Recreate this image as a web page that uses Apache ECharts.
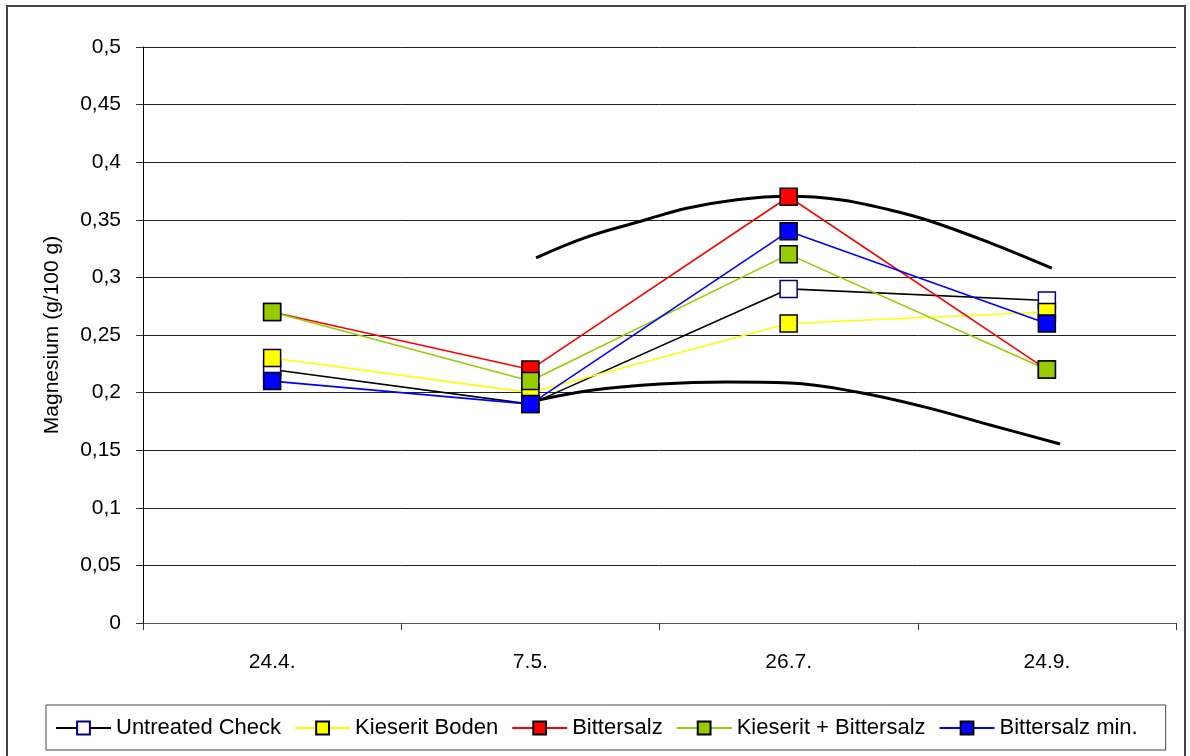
<!DOCTYPE html>
<html>
<head>
<meta charset="utf-8">
<script src="https://cdn.jsdelivr.net/npm/echarts@6/dist/echarts.min.js"></script>
<style>
  html, body { margin: 0; padding: 0; background: #fff; }
  #chart { width: 1190px; height: 756px; }
</style>
</head>
<body>
<div id="chart"></div>
<script>
// Sampling dates
const dates = ['24.4.', '7.5.', '26.7.', '24.9.'];

// Magnesium content (g/100 g) per treatment
const untreatedCheck = [0.22, 0.19, 0.29, 0.28];
const kieseritBoden = [0.23, 0.20, 0.26, 0.27];
const bittersalz = [0.27, 0.22, 0.37, 0.22];
const kieseritBittersalz = [0.27, 0.21, 0.32, 0.22];
const bittersalzMin = [0.21, 0.19, 0.34, 0.26];

// Hand-drawn envelope curves, [position along date axis (0..4), value]
const upperEnvelope = [
  [1.522, 0.317], [1.718, 0.335], [1.931, 0.349], [2.105, 0.360],
  [2.299, 0.3675], [2.500, 0.3705], [2.699, 0.3675], [2.893, 0.3585],
  [3.047, 0.349], [3.280, 0.330], [3.519, 0.308]
];
const lowerEnvelope = [
  [1.531, 0.1936], [1.744, 0.2023], [2.002, 0.2075], [2.260, 0.2092],
  [2.505, 0.2083], [2.764, 0.2005], [3.021, 0.1878], [3.280, 0.1719],
  [3.551, 0.1554]
];

const FONT = '"Liberation Sans", Arial, sans-serif';

function treatment(name, data, lineColor, fill, border) {
  return {
    name: name,
    type: 'line',
    xAxisIndex: 0,
    data: data,
    symbol: 'rect',
    symbolSize: 17,
    lineStyle: { color: lineColor, width: 1.6 },
    itemStyle: { color: fill, borderColor: border, borderWidth: 1.5 },
    emphasis: { disabled: true },
    animation: false
  };
}

function envelope(data) {
  return {
    type: 'line',
    xAxisIndex: 1,
    data: data,
    smooth: 0.4,
    showSymbol: false,
    symbol: 'none',
    lineStyle: { color: '#000', width: 3 },
    silent: true,
    animation: false
  };
}

const chart = echarts.init(document.getElementById('chart'));
chart.setOption({
  animation: false,
  textStyle: { fontFamily: FONT },
  grid: { left: 143, right: 14, top: 47, bottom: 133, containLabel: false },
  graphic: [{
    type: 'rect',
    shape: { x: 7, y: 6, width: 1178, height: 770 },
    style: { fill: 'none', stroke: '#444', lineWidth: 2 },
    silent: true
  }],
  legend: {
    left: 46,
    top: 705,
    data: ['Untreated Check', 'Kieserit Boden', 'Bittersalz', 'Kieserit + Bittersalz', 'Bittersalz min.'],
    itemWidth: 55,
    itemHeight: 16,
    itemGap: 13,
    padding: [12, 28, 11, 9],
    borderColor: '#444',
    borderWidth: 1,
    textStyle: { fontFamily: FONT, fontSize: 22, color: '#000', padding: [0, 0, 0, 0] }
  },
  xAxis: [{
    type: 'category',
    data: dates,
    boundaryGap: true,
    axisLine: { lineStyle: { color: '#555', width: 1 } },
    axisTick: { show: true, length: 7, lineStyle: { color: '#333' } },
    axisLabel: { color: '#000', fontSize: 21, margin: 29, fontFamily: FONT },
    splitLine: { show: false }
  }, {
    type: 'value',
    min: 0,
    max: 4,
    show: false,
    splitLine: { show: false }
  }],
  yAxis: {
    type: 'value',
    min: 0,
    max: 0.5,
    interval: 0.05,
    name: 'Magnesium (g/100 g)',
    nameLocation: 'middle',
    nameGap: 80,
    nameTextStyle: { color: '#000', fontSize: 21, fontFamily: FONT },
    axisLine: { show: true, lineStyle: { color: '#000', width: 1 } },
    axisTick: { show: true, length: 7, lineStyle: { color: '#333' } },
    axisLabel: {
      color: '#000', fontSize: 21, margin: 22, fontFamily: FONT,
      formatter: v => String(+v.toFixed(2)).replace('.', ',')
    },
    splitLine: { show: true, lineStyle: { color: '#222', width: 1 } }
  },
  series: [
    envelope(upperEnvelope),
    envelope(lowerEnvelope),
    treatment('Untreated Check', untreatedCheck, '#000', '#fff', '#000080'),
    treatment('Kieserit Boden', kieseritBoden, '#ffff00', '#ffff00', '#000'),
    treatment('Bittersalz', bittersalz, '#ff0000', '#ff0000', '#000'),
    treatment('Kieserit + Bittersalz', kieseritBittersalz, '#99cc00', '#99cc00', '#000'),
    treatment('Bittersalz min.', bittersalzMin, '#0000ff', '#0000ff', '#000')
  ]
});
</script>
</body>
</html>
